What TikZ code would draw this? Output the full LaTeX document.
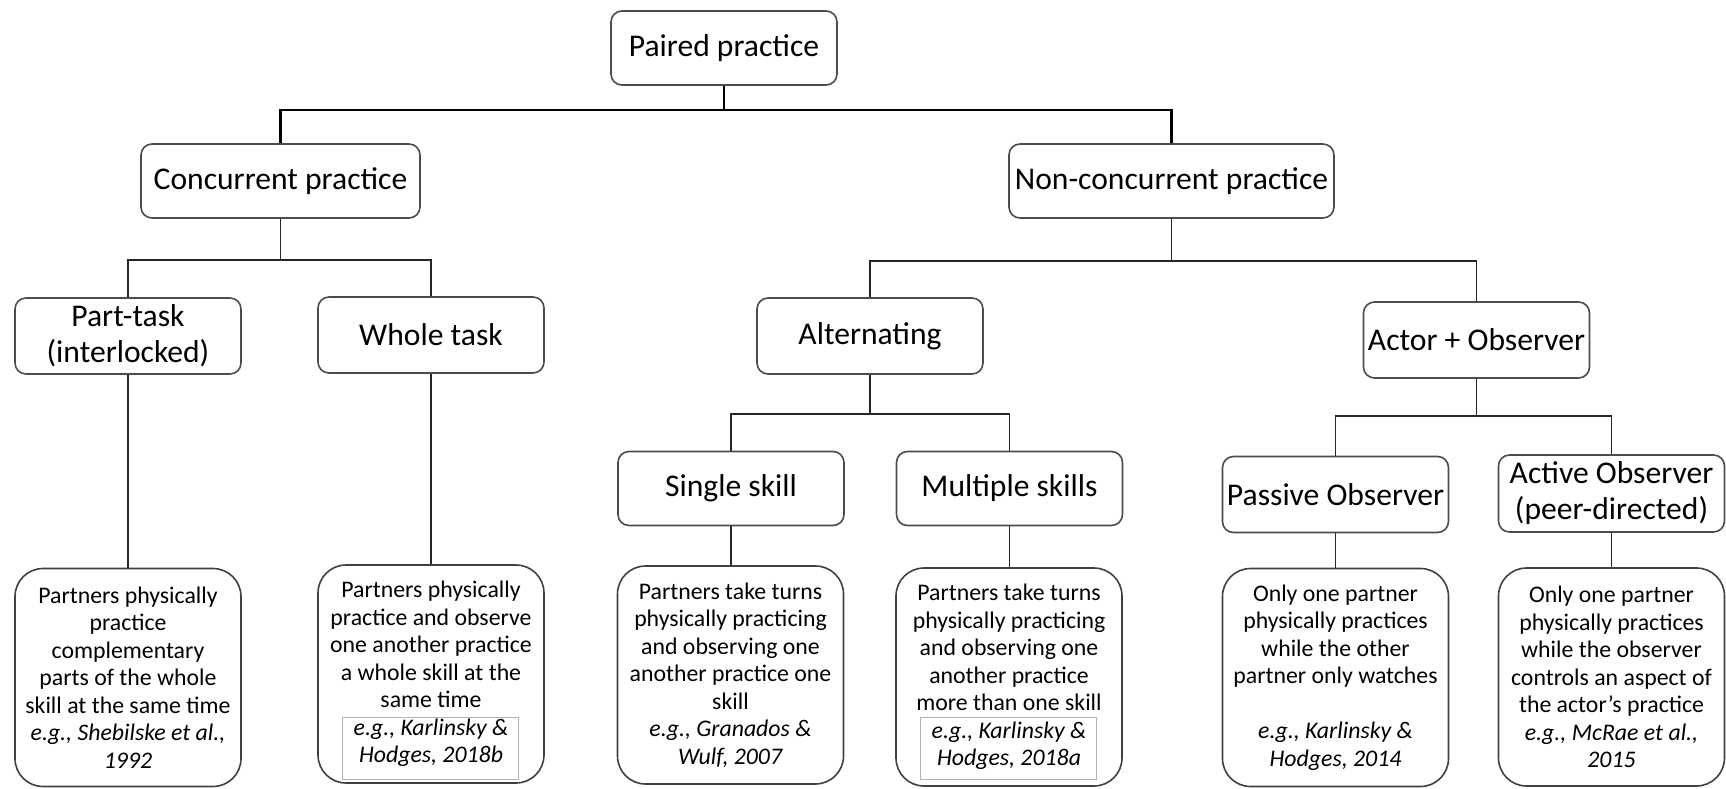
\documentclass[tikz,border=0pt]{standalone}
\usepackage{fontspec}
\setmainfont{Carlito}
\begin{document}
\begin{tikzpicture}[x=0.5pt,y=-0.5pt,
  head/.style={draw=black!70, line width=0.8pt, rounded corners=5.5pt, minimum width=113pt, minimum height=37pt, align=center, font=\fontsize{15.8}{18}\selectfont, inner sep=1pt},
  desc/.style={draw=black!75, line width=0.8pt, rounded corners=14pt, minimum width=113pt, minimum height=109pt, align=center, font=\fontsize{11.9}{13.75}\selectfont, inner sep=1pt},
  citebox/.style={draw=black!30, line width=0.4pt, minimum width=88pt, minimum height=31pt, inner sep=0pt},
  conn/.style={draw=black!85, line width=0.9pt},
  topconn/.style={draw=black, line width=1.1pt}]
\useasboundingbox (0,0) rectangle (1726,788);
% headings
\node[head] (paired) at (724,48) {\raisebox{-1pt}{Paired practice}};
\node[head, minimum width=139.5pt] (conc) at (280.5,181) {\raisebox{-1pt}{Concurrent practice}};
\node[head, minimum width=162.5pt] (nonconc) at (1171.5,181) {\raisebox{-1pt}{Non-concurrent practice}};
\node[head, minimum height=38pt] (part) at (128,336) {Part-task\\(interlocked)};
\node[head, minimum height=38pt] (whole) at (431,335) {\raisebox{-1pt}{Whole task}};
\node[head, minimum height=38pt] (alt) at (870,336) {\raisebox{-1pt}{Alternating}};
\node[head, minimum height=38pt] (actor) at (1476.5,340) {\raisebox{-1pt}{Actor + Observer}};
\node[head] (single) at (731,488.5) {\raisebox{-1pt}{Single skill}};
\node[head] (multi) at (1009.5,488.5) {\raisebox{-1pt}{Multiple skills}};
\node[head, minimum height=38pt] (passive) at (1335.5,494.5) {\raisebox{-1pt}{Passive Observer}};
\node[head, minimum height=38.5pt] (active) at (1611.5,493.5) {Active Observer\\(peer-directed)};
% descriptions
\node[desc] (partd) at (128,677.5) {Partners physically\\practice\\complementary\\parts of the whole\\skill at the same time\\\textit{e.g., Shebilske et al.,}\\\textit{1992}};
\node[desc] (wholed) at (431,674) {Partners physically\\practice and observe\\one another practice\\a whole skill at the\\same time\\\textit{e.g., Karlinsky \&}\\\textit{Hodges, 2018b}};
\node[desc] (singled) at (730.5,675) {Partners take turns\\physically practicing\\and observing one\\another practice one\\skill\\\textit{e.g., Granados \&}\\\textit{Wulf, 2007}};
\node[desc] (multid) at (1009,677) {Partners take turns\\physically practicing\\and observing one\\another practice\\more than one skill\\\textit{e.g., Karlinsky \&}\\\textit{Hodges, 2018a}};
\node[desc] (passived) at (1335.5,677.5) {Only one partner\\physically practices\\while the other\\partner only watches\\[13.75pt]\textit{e.g., Karlinsky \&}\\\textit{Hodges, 2014}};
\node[desc] (actived) at (1611.5,677) {Only one partner\\physically practices\\while the observer\\controls an aspect of\\the actor’s practice\\\textit{e.g., McRae et al.,}\\\textit{2015}};
% citation frames
\node[citebox] (wholecite) at (430.5,748) {};
\node[citebox] (multicite) at (1008,748) {};
% connectors
\coordinate (b0) at (724,110);
\draw[topconn] (paired.south) -- (b0);
\draw[topconn] (conc.north) |- (b0) -| (nonconc.north);
\coordinate (b1) at (280.5,260);
\draw[conn] (conc.south) -- (b1);
\draw[conn] (part.north) |- (b1) -| (whole.north);
\coordinate (b2) at (1171.5,261);
\draw[conn] (nonconc.south) -- (b2);
\draw[conn] (alt.north) |- (b2) -| (actor.north);
\coordinate (b3) at (870,414);
\draw[conn] (alt.south) -- (b3);
\draw[conn] (single.north) |- (b3) -| (multi.north);
\coordinate (b4) at (1476.5,416);
\draw[conn] (actor.south) -- (b4);
\draw[conn] (passive.north) |- (b4) -| (active.north);
\draw[conn] (part.south) -- (part.south |- partd.north);
\draw[conn] (whole.south) -- (whole.south |- wholed.north);
\draw[conn] (single.south) -- (single.south |- singled.north);
\draw[conn] (multi.south) -- (multi.south |- multid.north);
\draw[conn] (passive.south) -- (passive.south |- passived.north);
\draw[conn] (active.south) -- (active.south |- actived.north);
\end{tikzpicture}
\end{document}
